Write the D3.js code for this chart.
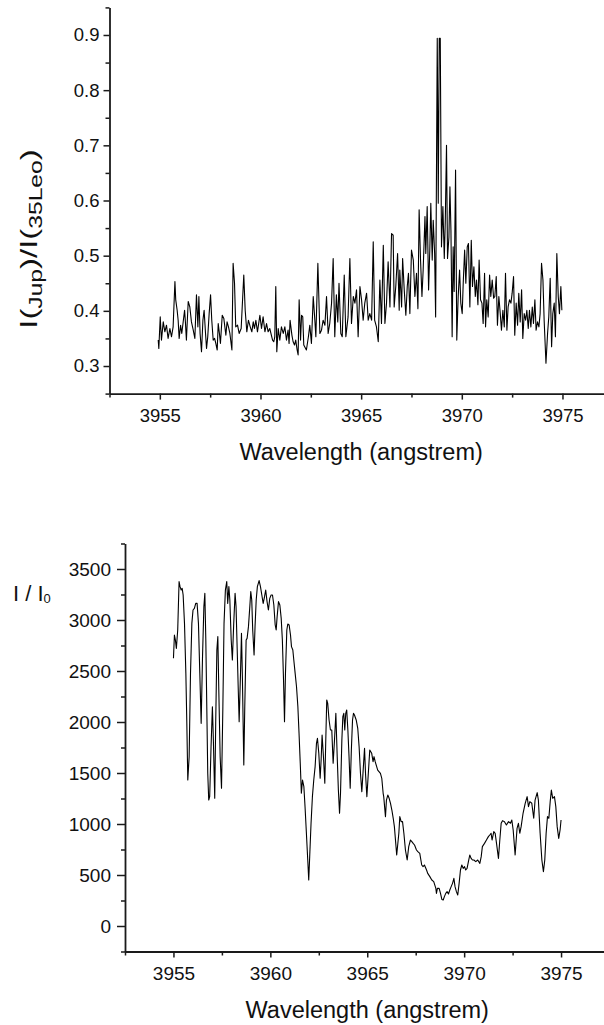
<!DOCTYPE html>
<html><head><meta charset="utf-8">
<script src="https://cdn.jsdelivr.net/npm/d3@7"></script>
<style>
body{margin:0;background:#fff}
svg{display:block}
text{font-family:"Liberation Sans",Arial,Helvetica,sans-serif;fill:#111}
</style>
</head><body>
<svg id="chart" width="604" height="1025"></svg>
<script>
// ---------- DATA ----------
const wavelengthTop = [3954.92,3954.95,3955.02,3955.08,3955.17,3955.25,3955.33,3955.41,3955.5,3955.58,3955.66,3955.75,3955.79,3955.86,3955.91,3955.96,3956.03,3956.09,3956.16,3956.23,3956.27,3956.32,3956.41,3956.49,3956.57,3956.66,3956.74,3956.82,3956.89,3956.94,3957.0,3957.07,3957.14,3957.2,3957.27,3957.32,3957.38,3957.45,3957.52,3957.58,3957.65,3957.72,3957.78,3957.85,3957.9,3957.96,3958.01,3958.1,3958.18,3958.28,3958.34,3958.41,3958.48,3958.58,3958.64,3958.71,3958.77,3958.86,3958.94,3959.04,3959.17,3959.24,3959.32,3959.4,3959.49,3959.57,3959.64,3959.7,3959.77,3959.85,3959.97,3960.05,3960.13,3960.22,3960.3,3960.38,3960.46,3960.6,3960.66,3960.71,3960.76,3960.81,3960.88,3960.96,3961.04,3961.13,3961.21,3961.29,3961.37,3961.42,3961.47,3961.56,3961.62,3961.69,3961.75,3961.82,3961.87,3961.92,3961.99,3962.04,3962.1,3962.15,3962.28,3962.38,3962.45,3962.53,3962.62,3962.7,3962.75,3962.85,3962.95,3963.03,3963.11,3963.2,3963.28,3963.36,3963.44,3963.53,3963.61,3963.69,3963.77,3963.84,3963.9,3963.99,3964.06,3964.16,3964.24,3964.35,3964.44,3964.52,3964.61,3964.69,3964.77,3964.85,3964.94,3965.02,3965.1,3965.18,3965.27,3965.35,3965.43,3965.52,3965.6,3965.67,3965.76,3965.85,3965.93,3966.01,3966.1,3966.18,3966.26,3966.34,3966.43,3966.51,3966.59,3966.64,3966.72,3966.81,3966.89,3966.92,3967.01,3967.06,3967.14,3967.22,3967.29,3967.35,3967.42,3967.5,3967.59,3967.67,3967.75,3967.82,3967.88,3967.95,3968.02,3968.08,3968.17,3968.21,3968.28,3968.35,3968.41,3968.46,3968.53,3968.58,3968.65,3968.7,3968.78,3968.83,3968.88,3968.93,3968.99,3969.06,3969.13,3969.18,3969.24,3969.29,3969.36,3969.41,3969.46,3969.52,3969.57,3969.62,3969.69,3969.75,3969.82,3969.89,3969.95,3970.02,3970.07,3970.14,3970.2,3970.27,3970.33,3970.4,3970.47,3970.53,3970.6,3970.67,3970.73,3970.8,3970.86,3970.93,3971.0,3971.06,3971.13,3971.18,3971.24,3971.31,3971.38,3971.44,3971.51,3971.58,3971.64,3971.71,3971.77,3971.84,3971.91,3971.97,3972.04,3972.11,3972.17,3972.24,3972.3,3972.37,3972.44,3972.5,3972.57,3972.63,3972.7,3972.77,3972.83,3972.9,3972.97,3973.03,3973.1,3973.17,3973.23,3973.3,3973.36,3973.43,3973.5,3973.56,3973.63,3973.69,3973.76,3973.83,3973.89,3973.96,3974.03,3974.09,3974.18,3974.26,3974.32,3974.39,3974.46,3974.52,3974.59,3974.65,3974.72,3974.79,3974.85,3974.92,3974.97];
const ratioTop = [0.347,0.332,0.389,0.347,0.38,0.362,0.374,0.35,0.368,0.353,0.371,0.453,0.42,0.401,0.383,0.35,0.374,0.359,0.38,0.401,0.38,0.347,0.417,0.407,0.38,0.365,0.35,0.429,0.371,0.426,0.359,0.326,0.383,0.401,0.359,0.332,0.353,0.395,0.429,0.383,0.347,0.35,0.341,0.329,0.377,0.359,0.341,0.392,0.386,0.356,0.38,0.371,0.359,0.329,0.486,0.45,0.371,0.374,0.359,0.368,0.465,0.401,0.362,0.383,0.371,0.362,0.38,0.368,0.383,0.362,0.392,0.368,0.389,0.362,0.377,0.362,0.368,0.347,0.344,0.353,0.444,0.326,0.368,0.347,0.371,0.359,0.371,0.347,0.365,0.341,0.383,0.356,0.344,0.338,0.347,0.329,0.32,0.42,0.347,0.392,0.389,0.338,0.329,0.353,0.374,0.341,0.426,0.383,0.353,0.486,0.359,0.365,0.383,0.374,0.426,0.359,0.377,0.414,0.495,0.353,0.429,0.38,0.45,0.359,0.353,0.465,0.353,0.389,0.495,0.377,0.426,0.414,0.438,0.353,0.444,0.42,0.383,0.414,0.432,0.383,0.395,0.383,0.525,0.383,0.371,0.344,0.456,0.377,0.519,0.377,0.414,0.489,0.407,0.54,0.537,0.407,0.444,0.504,0.401,0.474,0.407,0.495,0.438,0.392,0.444,0.468,0.395,0.51,0.492,0.426,0.468,0.404,0.583,0.492,0.426,0.474,0.571,0.504,0.589,0.438,0.51,0.595,0.492,0.564,0.504,0.389,0.894,0.595,0.894,0.894,0.516,0.589,0.495,0.564,0.7,0.495,0.534,0.625,0.546,0.353,0.516,0.435,0.655,0.347,0.426,0.474,0.414,0.395,0.45,0.51,0.45,0.516,0.522,0.407,0.528,0.444,0.48,0.426,0.456,0.411,0.492,0.42,0.414,0.377,0.468,0.371,0.42,0.389,0.465,0.426,0.456,0.423,0.426,0.462,0.374,0.426,0.395,0.365,0.401,0.371,0.468,0.365,0.407,0.42,0.414,0.432,0.462,0.356,0.414,0.374,0.432,0.38,0.438,0.35,0.395,0.383,0.401,0.368,0.401,0.371,0.407,0.377,0.42,0.365,0.38,0.371,0.395,0.486,0.456,0.383,0.305,0.359,0.389,0.459,0.335,0.395,0.414,0.353,0.504,0.426,0.395,0.444,0.401];

const wavelengthBottom = [3955.0,3955.05,3955.1,3955.15,3955.22,3955.29,3955.34,3955.4,3955.45,3955.5,3955.57,3955.64,3955.69,3955.74,3955.81,3955.88,3955.95,3956.01,3956.08,3956.15,3956.22,3956.29,3956.36,3956.43,3956.5,3956.57,3956.62,3956.67,3956.72,3956.77,3956.82,3956.87,3956.94,3957.01,3957.06,3957.13,3957.18,3957.24,3957.29,3957.34,3957.41,3957.48,3957.55,3957.61,3957.68,3957.75,3957.8,3957.86,3957.91,3957.98,3958.04,3958.11,3958.18,3958.23,3958.29,3958.34,3958.39,3958.46,3958.51,3958.56,3958.63,3958.68,3958.75,3958.8,3958.87,3958.94,3958.99,3959.04,3959.09,3959.16,3959.21,3959.27,3959.33,3959.42,3959.49,3959.56,3959.63,3959.7,3959.76,3959.83,3959.9,3959.97,3960.04,3960.11,3960.18,3960.25,3960.3,3960.35,3960.42,3960.49,3960.56,3960.62,3960.68,3960.73,3960.78,3960.85,3960.9,3960.97,3961.04,3961.09,3961.16,3961.21,3961.28,3961.35,3961.42,3961.48,3961.55,3961.6,3961.66,3961.73,3961.79,3961.86,3961.93,3961.98,3962.03,3962.1,3962.17,3962.24,3962.31,3962.38,3962.43,3962.5,3962.57,3962.62,3962.67,3962.74,3962.81,3962.86,3962.91,3962.96,3963.03,3963.1,3963.17,3963.24,3963.31,3963.38,3963.45,3963.51,3963.57,3963.62,3963.69,3963.74,3963.79,3963.84,3963.89,3963.94,3964.0,3964.06,3964.12,3964.18,3964.24,3964.29,3964.34,3964.43,3964.51,3964.58,3964.65,3964.72,3964.79,3964.86,3964.91,3964.98,3965.13,3965.23,3965.3,3965.35,3965.41,3965.54,3965.68,3965.75,3965.82,3965.85,3965.94,3965.99,3966.06,3966.13,3966.2,3966.27,3966.34,3966.4,3966.52,3966.63,3966.68,3966.75,3966.82,3966.89,3966.97,3967.06,3967.14,3967.23,3967.3,3967.37,3967.44,3967.54,3967.61,3967.71,3967.81,3967.88,3967.95,3968.06,3968.12,3968.23,3968.33,3968.43,3968.54,3968.57,3968.62,3968.71,3968.78,3968.85,3968.92,3968.98,3969.05,3969.12,3969.19,3969.26,3969.33,3969.4,3969.47,3969.53,3969.6,3969.67,3969.74,3969.81,3969.88,3969.95,3970.02,3970.08,3970.15,3970.22,3970.29,3970.36,3970.43,3970.5,3970.6,3970.7,3970.81,3970.88,3970.94,3971.05,3971.15,3971.25,3971.32,3971.39,3971.44,3971.53,3971.6,3971.67,3971.77,3971.84,3971.91,3971.98,3972.08,3972.18,3972.29,3972.39,3972.46,3972.53,3972.63,3972.73,3972.8,3972.87,3972.94,3973.04,3973.15,3973.25,3973.32,3973.39,3973.49,3973.59,3973.66,3973.77,3973.83,3973.92,3974.01,3974.09,3974.16,3974.23,3974.3,3974.37,3974.44,3974.5,3974.57,3974.66,3974.73,3974.8,3974.88,3974.95,3975.0];
const intensityBottom = [2624,2853,2804,2722,2902,3376,3327,3294,3310,3245,2967,2477,1987,1431,1660,2477,2967,3098,3114,3163,3163,2967,2477,1987,2641,3131,3261,2804,2150,1497,1235,1268,1758,2150,1824,1252,1987,2706,2837,2314,1660,1350,2150,2967,3294,3376,3163,3327,3196,2804,2608,2967,3261,3131,2706,2346,2003,2477,2869,2412,1578,2150,2804,2820,2935,3131,3278,3196,2902,2657,2935,3196,3327,3386,3327,3245,3163,3229,3294,3180,3098,3212,3245,3245,3147,2951,2902,3033,3180,3147,3016,2804,2412,2003,2477,2902,2961,2951,2853,2739,2706,2608,2477,2346,2150,1889,1562,1301,1431,1366,1170,909,647,451,680,1007,1268,1431,1562,1791,1840,1693,1448,1627,1873,1660,1399,1824,2216,2183,2020,1922,1922,1595,1824,2085,1660,1333,1105,1301,1824,2052,2085,1922,2085,2118,1922,1660,1350,1725,2020,2085,2069,2020,1938,1758,1497,1317,1529,1742,1497,1268,1725,1693,1611,1660,1611,1529,1497,1448,1301,1268,1072,1235,1284,1252,1203,1137,1056,974,696,909,1072,1023,1023,909,745,647,778,843,827,810,794,745,729,712,598,582,598,549,516,484,451,435,369,320,369,369,320,261,255,288,320,337,314,353,386,418,467,386,337,304,418,549,598,565,582,549,565,631,696,663,647,647,631,647,614,680,778,810,843,876,892,909,843,925,909,810,663,843,1007,1033,1023,990,1023,1007,1039,941,696,958,1007,909,974,1105,1203,1268,1170,1219,1203,1056,1235,1307,1235,909,647,533,647,909,1072,1056,1219,1333,1252,1268,1170,974,859,941,1039];

const xMajorTicks = [3955,3960,3965,3970,3975];
const xMinorTicks = [3952.5,3957.5,3962.5,3967.5,3972.5,3977.5];
const yMajorTicksTop = [0.3,0.4,0.5,0.6,0.7,0.8,0.9];
const yMinorTicksTop = [0.25,0.35,0.45,0.55,0.65,0.75,0.85,0.95];
const yMajorTicksBottom = [0,500,1000,1500,2000,2500,3000,3500];
const yMinorTicksBottom = [-250,250,750,1250,1750,2250,2750,3250,3750];
const xTitle = "Wavelength (angstrem)";

// ---------- DRAW ----------
const svg = d3.select("#chart");
const ink = "#1a1a1a";

function panel(cfg){
  const g = svg.append("g");
  const x = d3.scaleLinear().domain([3952.5,3977.5]).range([cfg.left, cfg.right]);
  const y = d3.scaleLinear().domain(cfg.yDomain).range([cfg.bottom, cfg.top]);

  const gx = g.append("g").attr("transform",`translate(0,${cfg.bottom})`)
    .call(d3.axisBottom(x).tickValues(xMajorTicks).tickSize(6).tickSizeOuter(0).tickPadding(cfg.xPad).tickFormat(d3.format("d")));
  gx.select(".domain").attr("stroke",ink).attr("stroke-width",1.8);
  gx.selectAll(".tick line").attr("stroke",ink).attr("stroke-width",1.5);
  gx.selectAll(".tick text").attr("font-size",cfg.tickFont).attr("fill","#111").style("font-family",'"Liberation Sans",Arial,sans-serif');
  const gxm = g.append("g").attr("transform",`translate(0,${cfg.bottom})`)
    .call(d3.axisBottom(x).tickValues(xMinorTicks).tickSize(4).tickFormat(""));
  gxm.select(".domain").remove();
  gxm.selectAll(".tick line").attr("stroke",ink).attr("stroke-width",1.5);

  const gy = g.append("g").attr("transform",`translate(${cfg.left},0)`)
    .call(d3.axisLeft(y).tickValues(cfg.yMajor).tickSize(cfg.yTick).tickSizeOuter(0).tickPadding(cfg.yPad).tickFormat(cfg.yFmt));
  gy.select(".domain").attr("stroke",ink).attr("stroke-width",1.8);
  gy.selectAll(".tick line").attr("stroke",ink).attr("stroke-width",1.5);
  gy.selectAll(".tick text").attr("font-size",cfg.tickFont).attr("fill","#111").style("font-family",'"Liberation Sans",Arial,sans-serif');
  const gym = g.append("g").attr("transform",`translate(${cfg.left},0)`)
    .call(d3.axisLeft(y).tickValues(cfg.yMinor).tickSize(4).tickFormat(""));
  gym.select(".domain").remove();
  gym.selectAll(".tick line").attr("stroke",ink).attr("stroke-width",1.5);

  const pts = cfg.xs.map((d,i)=>[d,cfg.ys[i]]);
  g.append("path").datum(pts)
    .attr("fill","none").attr("stroke","#000").attr("stroke-width",1.1).attr("stroke-linejoin","round")
    .attr("d", d3.line().x(d=>x(d[0])).y(d=>y(d[1])));

  g.append("text").attr("x",(cfg.left+cfg.right)/2).attr("y",cfg.bottom+66)
    .attr("text-anchor","middle").attr("font-size",23.5).text(xTitle);
  return {x,y,g};
}

panel({left:109.5,right:612.8,top:7.4,bottom:393.6,yDomain:[0.25,0.95],
  xs:wavelengthTop, ys:ratioTop, yMajor:yMajorTicksTop, yMinor:yMinorTicksTop,
  yFmt:d3.format(".1f"), tickFont:18.5, yTick:6, yPad:4, xPad:9});

panel({left:125,right:609.5,top:543.5,bottom:951.5,yDomain:[-250,3750],
  xs:wavelengthBottom, ys:intensityBottom, yMajor:yMajorTicksBottom, yMinor:yMinorTicksBottom,
  yFmt:d3.format("d"), tickFont:19, yTick:8, yPad:6, xPad:9});

// y titles
const yl = svg.append("text").attr("transform","translate(37,239) rotate(-90) scale(1.37,1)")
  .attr("text-anchor","middle").attr("font-size",24);
yl.append("tspan").text("I(");
yl.append("tspan").attr("font-size",18).attr("dy",5).text("Jup");
yl.append("tspan").attr("dy",-5).text(")/I(");
yl.append("tspan").attr("font-size",18).attr("dy",5).text("35Leo");
yl.append("tspan").attr("dy",-5).text(")");

const yb = svg.append("text").attr("x",13).attr("y",601).attr("font-size",22);
yb.append("tspan").text("I / I");
yb.append("tspan").attr("font-size",13).attr("dy",2).text("0");
</script>
</body></html>
